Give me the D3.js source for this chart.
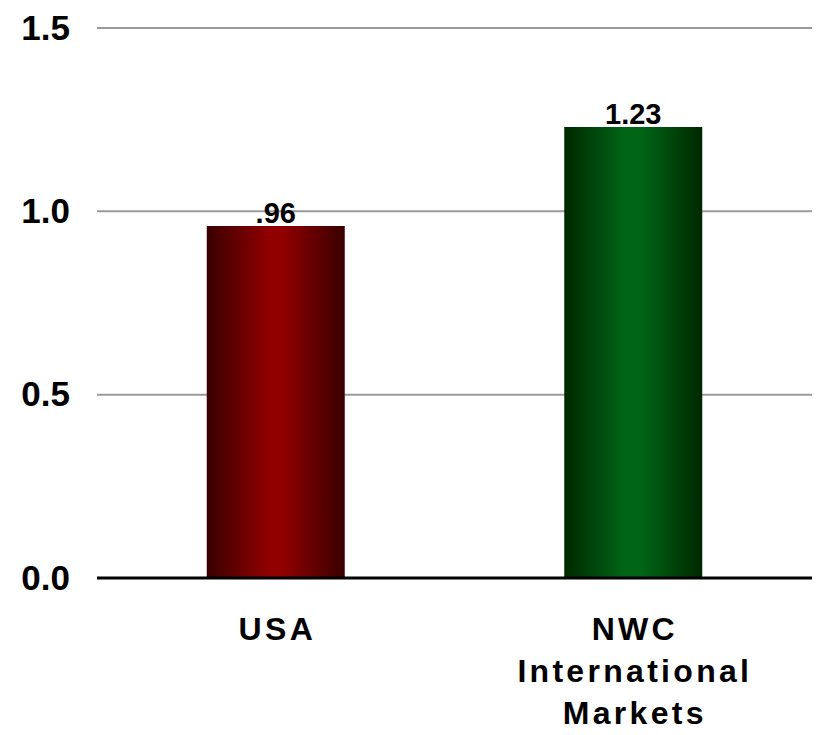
<!DOCTYPE html>
<html>
<head>
<meta charset="utf-8">
<script src="https://cdn.jsdelivr.net/npm/d3@7"></script>
<style>
  html, body { margin: 0; padding: 0; background: #fff; }
  svg { display: block; font-family: "Liberation Sans", Arial, sans-serif; }
</style>
</head>
<body>
<svg id="chart" width="827" height="735"></svg>
<script>
// Categories, values and tick labels
const categories = ["USA", "NWC International Markets"];
const categoryLines = [["USA"], ["NWC", "International", "Markets"]];
const values = [0.96, 1.23];
const valueLabels = [".96", "1.23"];
const tickValues = [0, 0.5, 1.0, 1.5];
const tickLabels = ["0.0", "0.5", "1.0", "1.5"];
const barColors = [
  { edge: "#3a0000", mid: "#900000" },
  { edge: "#002800", mid: "#006616" }
];

const svg = d3.select("#chart");
const margin = { left: 97, right: 15, top: 28, bottom: 157 };
const W = 827, H = 735;

const x = d3.scaleBand()
  .domain(categories)
  .range([margin.left, W - margin.right])
  .paddingInner(0.614)
  .paddingOuter(0.307);

const y = d3.scaleLinear()
  .domain([0, 1.5])
  .range([H - margin.bottom, margin.top]);

// Horizontal gradients: dark edges, bright centre
const defs = svg.append("defs");
barColors.forEach((c, i) => {
  const g = defs.append("linearGradient")
    .attr("id", "grad" + i)
    .attr("x1", "0%").attr("x2", "100%")
    .attr("y1", "0%").attr("y2", "0%");
  g.append("stop").attr("offset", "0%").attr("stop-color", c.edge);
  g.append("stop").attr("offset", "45%").attr("stop-color", c.mid);
  g.append("stop").attr("offset", "55%").attr("stop-color", c.mid);
  g.append("stop").attr("offset", "100%").attr("stop-color", c.edge);
});

// Gridlines
svg.append("g")
  .selectAll("line")
  .data(tickValues.filter(v => v > 0))
  .join("line")
  .attr("x1", margin.left)
  .attr("x2", W - margin.right)
  .attr("y1", d => y(d))
  .attr("y2", d => y(d))
  .attr("stroke", "#9a9a9a")
  .attr("stroke-width", 2);

// Y axis labels
const yAxis = d3.axisLeft(y)
  .tickValues(tickValues)
  .tickFormat((d, i) => tickLabels[i])
  .tickSize(0)
  .tickPadding(27);
const ya = svg.append("g")
  .attr("transform", `translate(${margin.left},0)`)
  .call(yAxis);
ya.select(".domain").remove();
ya.selectAll("text")
  .attr("font-family", "'Liberation Sans', Arial, sans-serif")
  .attr("font-size", 35)
  .attr("font-weight", "bold")
  .attr("fill", "#000");

// Bars
svg.append("g")
  .selectAll("rect")
  .data(values)
  .join("rect")
  .attr("x", (d, i) => x(categories[i]))
  .attr("width", x.bandwidth())
  .attr("y", d => y(d))
  .attr("height", d => y(0) - y(d))
  .attr("fill", (d, i) => `url(#grad${i})`);

// Value labels
svg.append("g")
  .selectAll("text")
  .data(values)
  .join("text")
  .attr("x", (d, i) => x(categories[i]) + x.bandwidth() / 2)
  .attr("y", d => y(d) - 3)
  .attr("text-anchor", "middle")
  .attr("font-size", 29)
  .attr("font-weight", "bold")
  .attr("fill", "#000")
  .text((d, i) => valueLabels[i]);

// Baseline
svg.append("line")
  .attr("x1", margin.left)
  .attr("x2", W - margin.right)
  .attr("y1", y(0))
  .attr("y2", y(0))
  .attr("stroke", "#000")
  .attr("stroke-width", 3);

// Category labels
const cat = svg.append("g")
  .selectAll("text")
  .data(categories)
  .join("text")
  .attr("text-anchor", "middle")
  .attr("font-size", 32)
  .attr("font-weight", "bold")
  .attr("letter-spacing", 3.3)
  .attr("fill", "#000");
cat.each(function(d, i) {
  const cx = x(d) + x.bandwidth() / 2 + 1.6;
  d3.select(this).selectAll("tspan")
    .data(categoryLines[i])
    .join("tspan")
    .attr("x", cx)
    .attr("y", (t, j) => y(0) + 62 + j * 42)
    .text(t => t);
});
</script>
</body>
</html>
